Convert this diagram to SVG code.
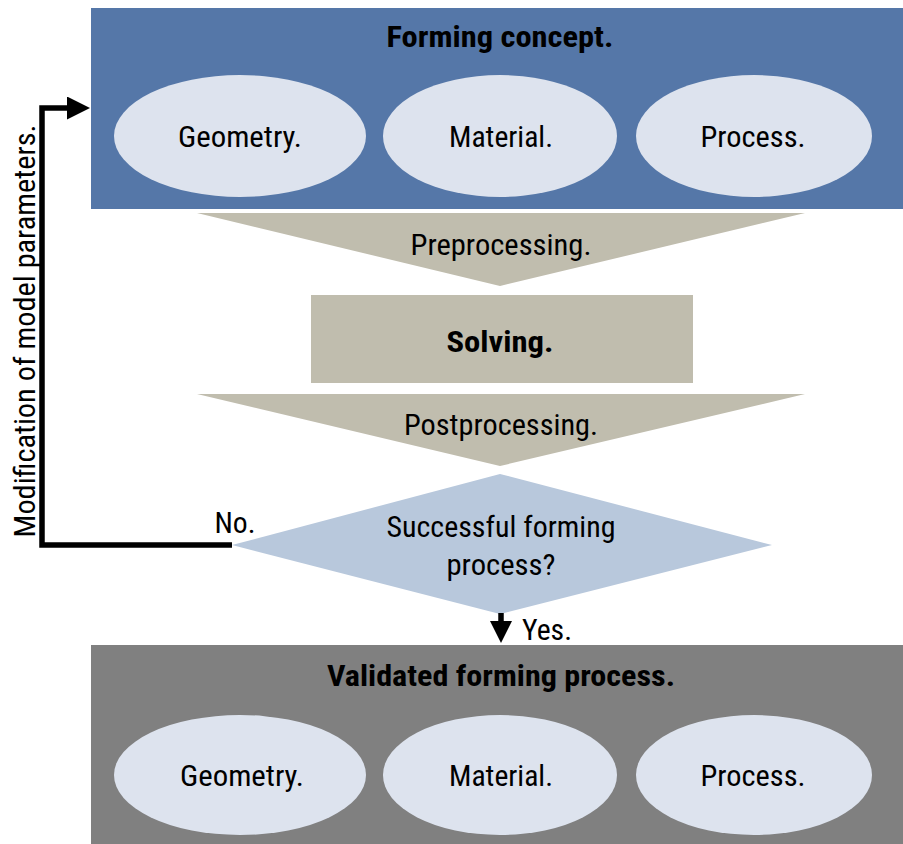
<svg xmlns="http://www.w3.org/2000/svg" width="903" height="844" viewBox="0 0 903 844">
<style>
text{font-family:"Roboto Condensed","DejaVu Sans Condensed","Liberation Sans Narrow",Roboto,"Liberation Sans",sans-serif;font-stretch:condensed;font-size:29px;fill:#000;text-anchor:middle}
.b{font-weight:bold}
.ell{fill:#dde3ee}
.tri{fill:#c0bdae}
.ln{fill:none;stroke:#000;stroke-width:5.5}
</style>
<defs>
<marker id="ah" markerWidth="23" markerHeight="23" refX="1" refY="11.5" orient="auto" markerUnits="userSpaceOnUse" viewBox="0 0 23 23">
<path d="M0,0 L23,11.5 L0,23 Z" fill="#000"/>
</marker>
<marker id="ah2" markerWidth="22" markerHeight="22" refX="1" refY="11" orient="auto" markerUnits="userSpaceOnUse" viewBox="0 0 22 22">
<path d="M0,0 L22,11 L0,22 Z" fill="#000"/>
</marker>
</defs>
<g id="concept">
<rect x="91" y="8" width="812" height="201" fill="#5577a8"/>
<text class="b" x="500" y="47" textLength="227" lengthAdjust="spacingAndGlyphs">Forming concept.</text>
<ellipse class="ell" cx="240" cy="136" rx="126" ry="61"/>
<text x="240" y="147" textLength="124" lengthAdjust="spacingAndGlyphs">Geometry.</text>
<ellipse class="ell" cx="500" cy="136" rx="117" ry="61"/>
<text x="501" y="147" textLength="104" lengthAdjust="spacingAndGlyphs">Material.</text>
<ellipse class="ell" cx="754" cy="136" rx="118" ry="61"/>
<text x="753" y="147" textLength="105" lengthAdjust="spacingAndGlyphs">Process.</text>
</g>
<g id="preprocessing">
<polygon class="tri" points="197,213 805,213 500,286"/>
<text x="501" y="255" textLength="181" lengthAdjust="spacingAndGlyphs">Preprocessing.</text>
</g>
<g id="solving">
<rect x="311" y="295" width="382" height="88" fill="#c0bdae"/>
<text class="b" x="500" y="352" textLength="107" lengthAdjust="spacingAndGlyphs">Solving.</text>
</g>
<g id="postprocessing">
<polygon class="tri" points="197,394 805,394 500,466"/>
<text x="501" y="435" textLength="194" lengthAdjust="spacingAndGlyphs">Postprocessing.</text>
</g>
<g id="decision">
<polygon points="500,474 772,545 500,614 232,545" fill="#b8c8dc"/>
<text x="501" y="537" textLength="229" lengthAdjust="spacingAndGlyphs">Successful forming</text>
<text x="501" y="575" textLength="109" lengthAdjust="spacingAndGlyphs">process?</text>
</g>
<g id="validated">
<rect x="91" y="645" width="812" height="199" fill="#808080"/>
<text class="b" x="501" y="686" textLength="348" lengthAdjust="spacingAndGlyphs">Validated forming process.</text>
<ellipse class="ell" cx="240" cy="775" rx="126" ry="60"/>
<text x="242" y="786" textLength="124" lengthAdjust="spacingAndGlyphs">Geometry.</text>
<ellipse class="ell" cx="500" cy="775" rx="117" ry="60"/>
<text x="501" y="786" textLength="104" lengthAdjust="spacingAndGlyphs">Material.</text>
<ellipse class="ell" cx="754" cy="775" rx="118" ry="60"/>
<text x="753" y="786" textLength="105" lengthAdjust="spacingAndGlyphs">Process.</text>
</g>
<g id="connectors">
<path class="ln" d="M232,545 H42 V108 H68" marker-end="url(#ah)"/>
<path class="ln" d="M501,613 V622" marker-end="url(#ah2)"/>
<text x="235" y="533" textLength="41" lengthAdjust="spacingAndGlyphs">No.</text>
<text x="547" y="640" textLength="50" lengthAdjust="spacingAndGlyphs">Yes.</text>
<text transform="translate(35,331) rotate(-90)" textLength="413" lengthAdjust="spacingAndGlyphs">Modification of model parameters.</text>
</g>
</svg>
